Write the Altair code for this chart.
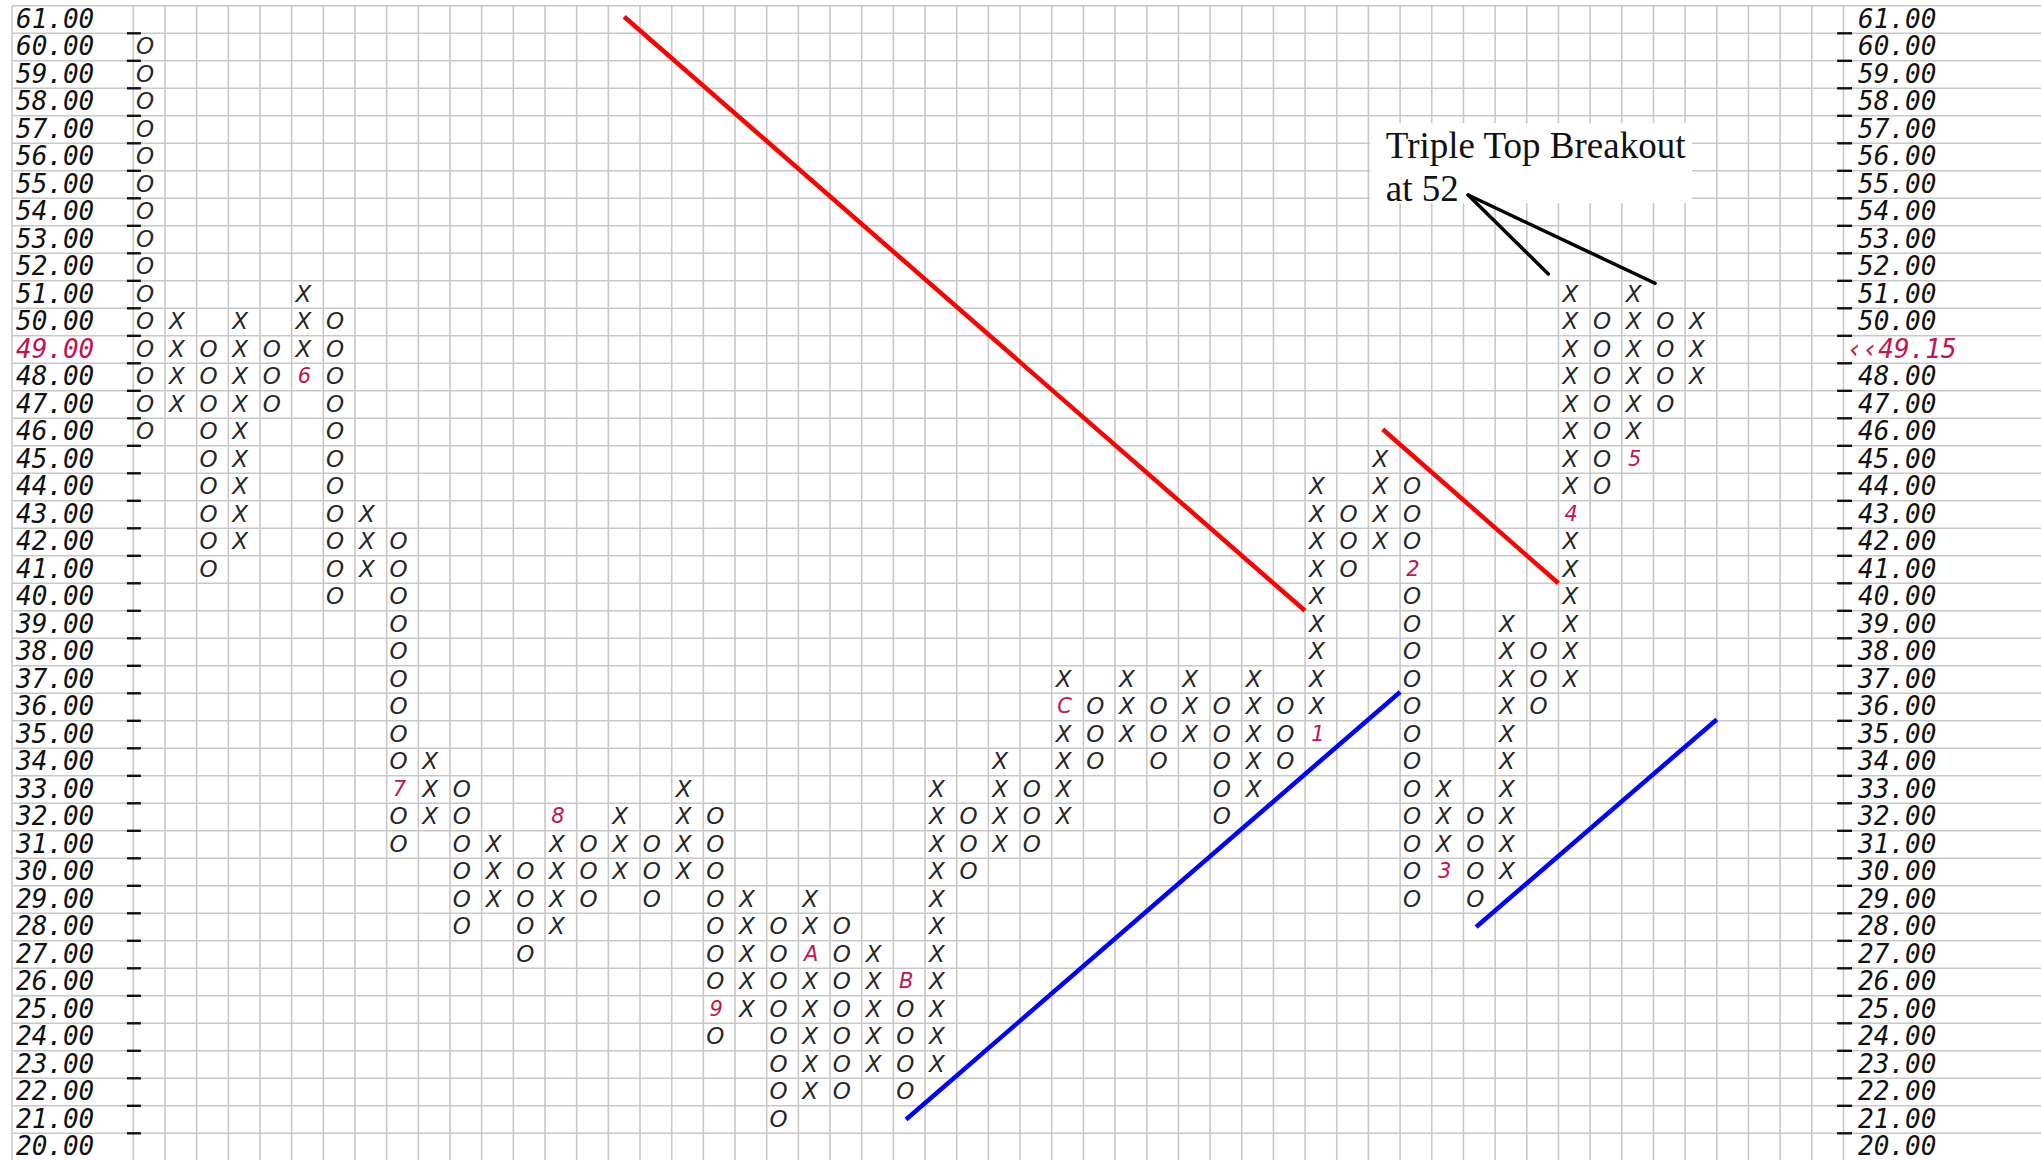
import altair as alt
import pandas as pd

# ---------------- data (box size 1.00) ----------------
col_type = ["O", "X", "O", "X", "O", "X", "O", "X", "O", "X",
            "O", "X", "O", "X", "O", "X", "O", "X", "O", "X",
            "O", "X", "O", "X", "O", "X", "O", "X", "O", "X",
            "O", "X", "O", "X", "O", "X", "O", "X", "O", "X",
            "O", "X", "O", "X", "O", "X", "O", "X", "O", "X"]
col_high = [60, 50, 49, 50, 49, 51, 50, 43, 42, 34,
            33, 31, 30, 32, 31, 32, 31, 33, 32, 29,
            28, 29, 28, 27, 26, 33, 32, 34, 33, 37,
            36, 37, 36, 37, 36, 37, 36, 44, 43, 45,
            44, 33, 32, 39, 38, 51, 50, 51, 50, 50]
col_low = [46, 47, 41, 42, 47, 48, 40, 41, 31, 32,
           28, 29, 27, 28, 29, 30, 29, 30, 24, 25,
           21, 22, 22, 23, 22, 23, 30, 31, 31, 32,
           34, 35, 34, 35, 32, 33, 34, 35, 41, 42,
           29, 30, 29, 30, 36, 37, 44, 45, 47, 48]

month_col = [5, 8, 13, 18, 21, 24, 29, 37, 40, 41, 45, 47]
month_price = [48, 33, 32, 25, 27, 26, 36, 35, 41, 30, 43, 45]
month_label = ["6", "7", "8", "9", "A", "B", "C", "1", "2", "3", "4", "5"]

price_levels = [61, 60, 59, 58, 57, 56, 55, 54, 53, 52, 51, 50, 49, 48, 47, 46, 45,
                44, 43, 42, 41, 40, 39, 38, 37, 36, 35, 34, 33, 32, 31, 30, 29, 28,
                27, 26, 25, 24, 23, 22, 21, 20]
left_labels = ["61.00", "60.00", "59.00", "58.00", "57.00", "56.00", "55.00", "54.00",
               "53.00", "52.00", "51.00", "50.00", "49.00", "48.00", "47.00", "46.00",
               "45.00", "44.00", "43.00", "42.00", "41.00", "40.00", "39.00", "38.00",
               "37.00", "36.00", "35.00", "34.00", "33.00", "32.00", "31.00", "30.00",
               "29.00", "28.00", "27.00", "26.00", "25.00", "24.00", "23.00", "22.00",
               "21.00", "20.00"]
last_price_row = 49
last_price_label = "\u2039\u203949.15"

# trend lines (column index, price)
trend_x1 = [15.0, 38.95, 23.9, 41.9]
trend_y1 = [61.1, 46.1, 21.0, 28.0]
trend_x2 = [36.5, 44.5, 39.5, 49.5]
trend_y2 = [39.5, 40.5, 36.55, 35.55]
trend_color = ["#ff0000", "#ff0000", "#0000ff", "#0000ff"]

note_lines = ["Triple Top Breakout", "at 52"]

# ---------------- layout constants (column index / price units) ----------------
XD = [-4.709, 59.737]
YD = [19.529, 61.711]
LEFT_EDGE = -4.33
TOP_EDGE = 61.5
n_cols = 54

# ---------------- tables ----------------
marks = {(c, p): l for c, p, l in zip(month_col, month_price, month_label)}
cells = []
for i, (t, hi, lo) in enumerate(zip(col_type, col_high, col_low)):
    for p in range(lo, hi + 1):
        if (i, p) not in marks:
            cells.append({"col": i, "price": p, "sym": t})
cells = pd.DataFrame(cells)
months = pd.DataFrame({"col": month_col, "price": month_price, "sym": month_label})

hy = [p + 0.5 for p in range(19, 62)]
hgrid = pd.DataFrame({"y": hy, "xa": [LEFT_EDGE] * len(hy), "xb": [XD[1]] * len(hy)})
vx = [j - 0.5 for j in range(n_cols + 1)] + [LEFT_EDGE]
vgrid = pd.DataFrame({"x": vx, "ya": [TOP_EDGE] * len(vx), "yb": [YD[0]] * len(vx)})
ty = [p - 0.5 for p in price_levels[:-1]]
ticks = pd.DataFrame({
    "y": ty * 2,
    "xa": [-0.70] * len(ty) + [53.30] * len(ty),
    "xb": [-0.26] * len(ty) + [53.77] * len(ty)})

lab = pd.DataFrame({
    "price": price_levels,
    "text": left_labels,
    "x": [-4.204] * len(price_levels),
    "hl": ["hi" if p == last_price_row else "lo" for p in price_levels]})
rtext = [last_price_label if p == last_price_row else t
         for p, t in zip(price_levels, left_labels)]
rlab = pd.DataFrame({
    "price": price_levels,
    "text": rtext,
    "x": [53.61 if p == last_price_row else 53.96 for p in price_levels],
    "hl": lab["hl"]})
labels = pd.concat([lab, rlab], ignore_index=True)

trend = pd.DataFrame({"x": trend_x1, "y": trend_y1, "x2": trend_x2,
                      "y2": trend_y2, "color": trend_color})

box_df = pd.DataFrame({"xa": [38.55], "xb": [48.71], "ya": [57.23], "yb": [54.32]})
note_df = pd.DataFrame({"t": note_lines, "x": [39.05, 39.05], "y": [55.955, 54.41]})
pointer_df = pd.DataFrame({"x": [41.65, 41.65], "y": [54.62, 54.62],
                           "x2": [44.18, 47.55], "y2": [51.75, 51.41]})

# ---------------- scales ----------------
xs = alt.Scale(domain=XD, nice=False, zero=False)
ys = alt.Scale(domain=YD, nice=False, zero=False)


def xq(f):
    return alt.X(f"{f}:Q", scale=xs, axis=None)


def yq(f):
    return alt.Y(f"{f}:Q", scale=ys, axis=None)


GRID = "#c8c8c8"
INK = "#262626"
CRIMSON = "#c3144f"

h_rules = alt.Chart(hgrid).mark_rule(color=GRID, strokeWidth=1.6).encode(
    x=xq("xa"), x2="xb:Q", y=yq("y"))
v_rules = alt.Chart(vgrid).mark_rule(color=GRID, strokeWidth=1.6).encode(
    x=xq("x"), y=yq("ya"), y2="yb:Q")
tick_rules = alt.Chart(ticks).mark_rule(color="#111", strokeWidth=2.4).encode(
    x=xq("xa"), x2="xb:Q", y=yq("y"))

trend_rules = alt.Chart(trend).mark_rule(strokeWidth=4.5, strokeCap="butt").encode(
    x=xq("x"), y=yq("y"), x2="x2:Q", y2="y2:Q",
    color=alt.Color("color:N", scale=None, legend=None))

xo = alt.Chart(cells).mark_text(
    font="DejaVu Sans", fontStyle="italic", fontSize=23, color=INK,
    dx=-4, baseline="middle", align="center").encode(
    x=xq("col"), y=yq("price"), text="sym:N")
mo = alt.Chart(months).mark_text(
    font="DejaVu Sans", fontStyle="italic", fontSize=21, color=CRIMSON,
    dx=-3, baseline="middle", align="center").encode(
    x=xq("col"), y=yq("price"), text="sym:N")

lab_marks = alt.Chart(labels).mark_text(
    font="DejaVu Sans Mono", fontStyle="italic", fontSize=26,
    baseline="middle", align="left").encode(
    x=xq("x"), y=yq("price"), text="text:N",
    color=alt.Color("hl:N", scale=alt.Scale(domain=["lo", "hi"],
                                            range=["#111111", CRIMSON]), legend=None))

box = alt.Chart(box_df).mark_rect(color="white").encode(
    x=xq("xa"), x2="xb:Q", y=yq("ya"), y2="yb:Q")
note = alt.Chart(note_df).mark_text(
    font="Liberation Serif", fontSize=37, color="#111", align="left",
    baseline="alphabetic").encode(
    x=xq("x"), y=yq("y"), text="t:N")
pointer = alt.Chart(pointer_df).mark_rule(
    color="#000", strokeWidth=3.5, strokeCap="round").encode(
    x=xq("x"), y=yq("y"), x2="x2:Q", y2="y2:Q")

chart = alt.layer(
    h_rules, v_rules, tick_rules, trend_rules, xo, mo,
    lab_marks, box, note, pointer
).resolve_scale(color="independent").properties(
    width=2041, height=1160, padding=0,
    autosize=alt.AutoSizeParams(type="none"), background="white"
).configure_view(stroke=None)

chart.save("out.html", embed_options={"renderer": "svg", "actions": False})
